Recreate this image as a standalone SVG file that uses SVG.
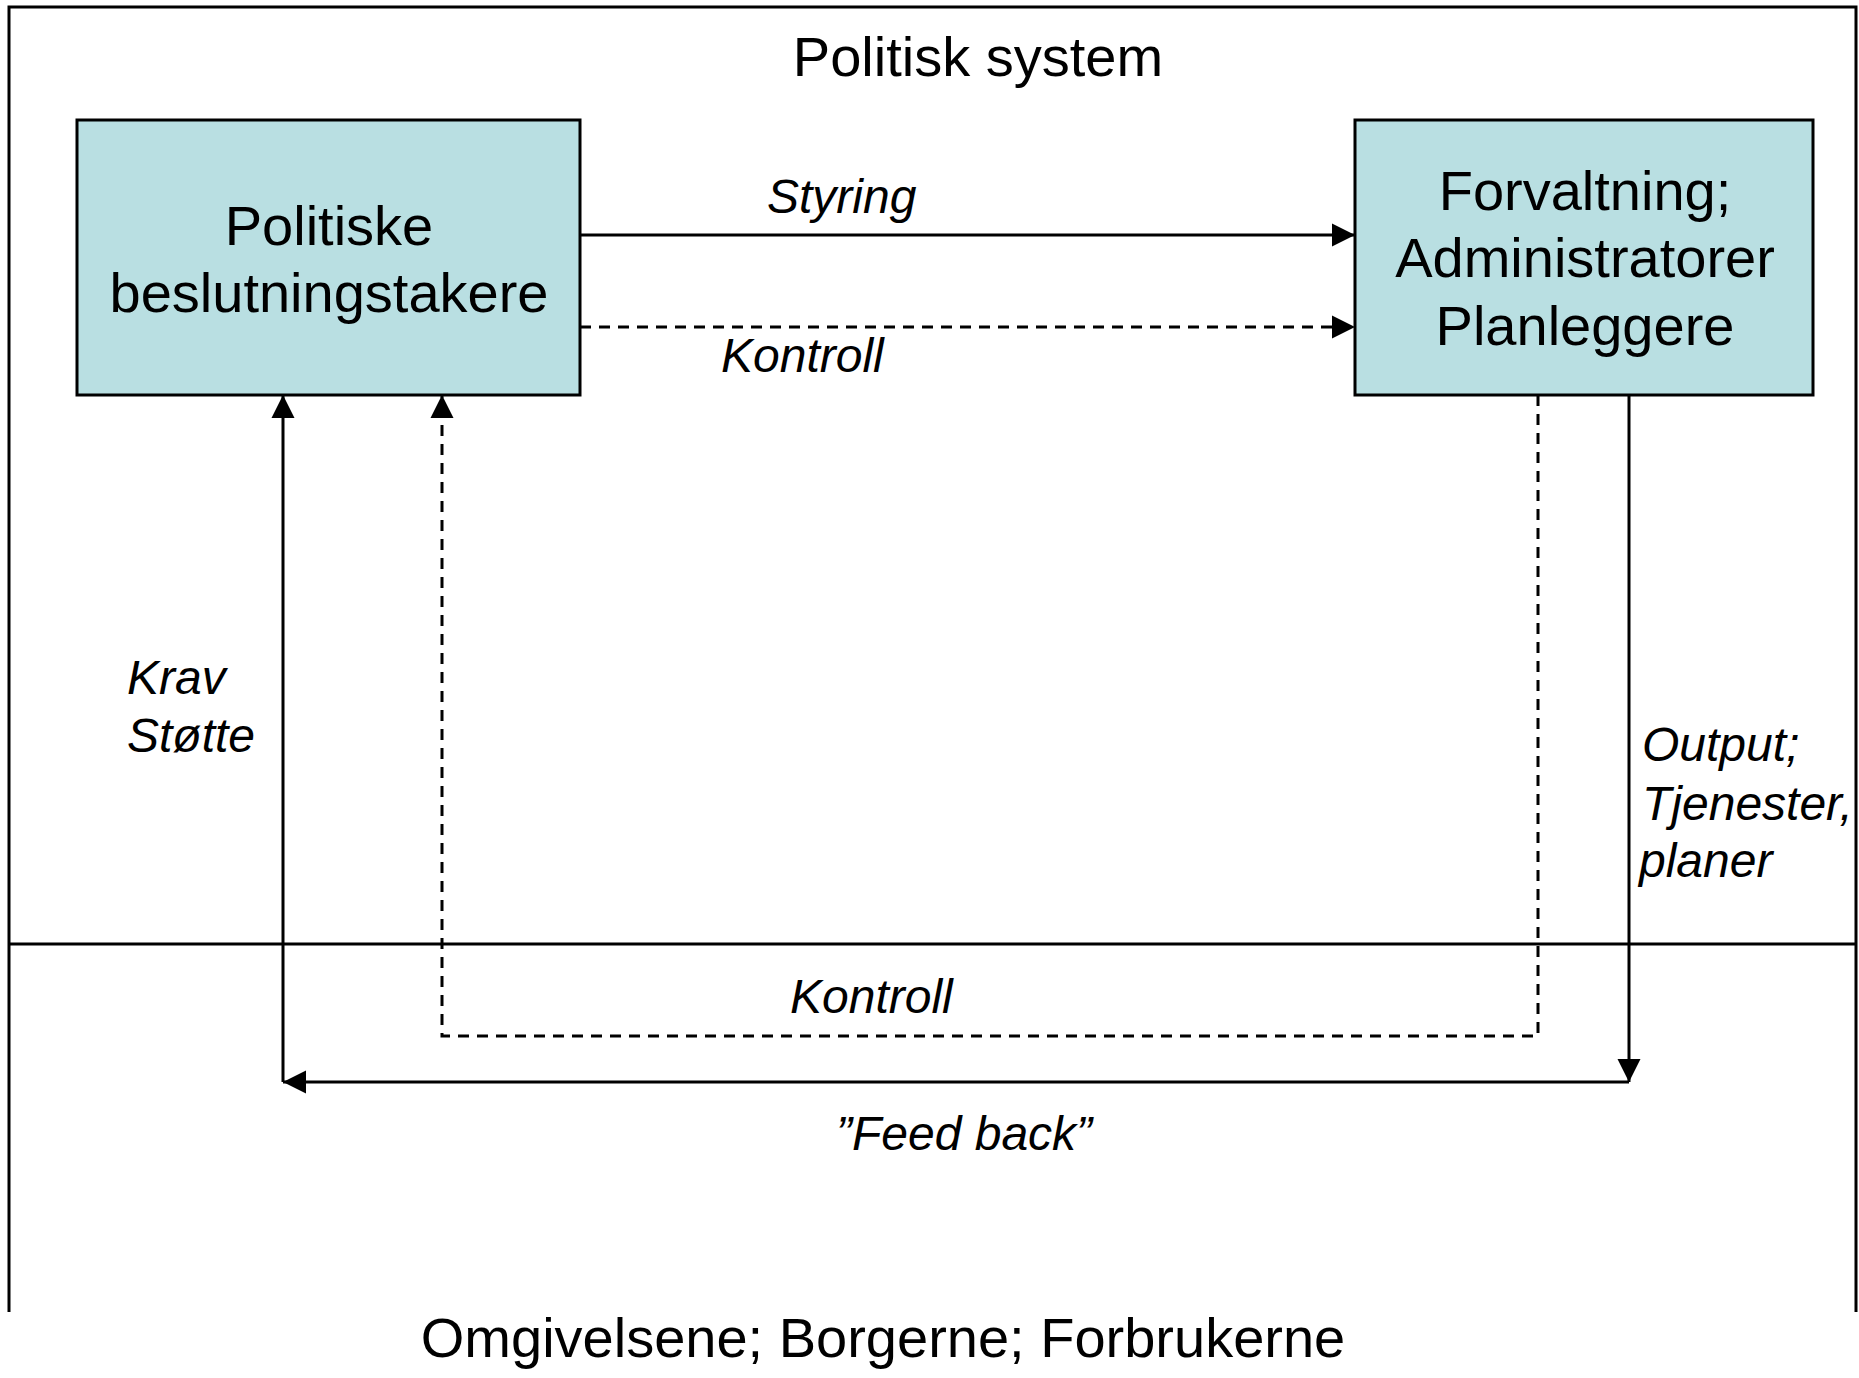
<svg xmlns="http://www.w3.org/2000/svg" width="1859" height="1378" viewBox="0 0 1859 1378">
<style>
.frame{fill:none;stroke:#000;stroke-width:3}
.box{fill:#B9DFE2;stroke:#000;stroke-width:3}
.main{font-family:"Liberation Sans",Arial,sans-serif;font-size:56px;fill:#000}
.lbl{font-family:"Liberation Sans",Arial,sans-serif;font-size:48px;font-style:italic;fill:#000}
.c{fill:none;stroke:#000;stroke-width:3}
.d{stroke-dasharray:11 8}
</style>
<defs>
<marker id="ah" markerUnits="userSpaceOnUse" markerWidth="24" markerHeight="24" viewBox="0 0 24 24" refX="23" refY="12" orient="auto">
<path d="M0,0.5 L23,12 L0,23.5 z" fill="#000"/>
</marker>
</defs>
<rect width="1859" height="1378" fill="#fff"/>
<g id="frame">
<path class="frame" d="M9,1312 V7 H1856 V1312"/>
<line class="frame" x1="9" y1="944" x2="1856" y2="944"/>
<text class="main" x="978" y="76" text-anchor="middle">Politisk system</text>
<text class="main" x="883" y="1357" text-anchor="middle">Omgivelsene; Borgerne; Forbrukerne</text>
</g>
<g id="node-politiske">
<rect class="box" x="77" y="120" width="503" height="275"/>
<text class="main" x="329" y="245" text-anchor="middle">Politiske</text>
<text class="main" x="329" y="312" text-anchor="middle">beslutningstakere</text>
</g>
<g id="node-forvaltning">
<rect class="box" x="1355" y="120" width="458" height="275"/>
<text class="main" x="1585" y="210" text-anchor="middle">Forvaltning;</text>
<text class="main" x="1585" y="277" text-anchor="middle">Administratorer</text>
<text class="main" x="1585" y="345" text-anchor="middle">Planleggere</text>
</g>
<g id="connectors">
<line class="c" x1="580" y1="235" x2="1355" y2="235" marker-end="url(#ah)"/>
<line class="c d" x1="580" y1="327" x2="1355" y2="327" marker-end="url(#ah)"/>
<path class="c d" d="M1538,395 V1036 H442 V395" marker-end="url(#ah)"/>
<line class="c" x1="1629" y1="395" x2="1629" y2="1082" marker-end="url(#ah)"/>
<line class="c" x1="1629" y1="1082" x2="283" y2="1082" marker-end="url(#ah)"/>
<line class="c" x1="283" y1="1082" x2="283" y2="395" marker-end="url(#ah)"/>
</g>
<g id="labels">
<text class="lbl" x="767" y="213">Styring</text>
<text class="lbl" x="721" y="372">Kontroll</text>
<text class="lbl" x="127" y="694">Krav</text>
<text class="lbl" x="127" y="752">Støtte</text>
<text class="lbl" x="1642" y="761">Output;</text>
<text class="lbl" x="1642" y="820">Tjenester,</text>
<text class="lbl" x="1639" y="877">planer</text>
<text class="lbl" x="790" y="1013">Kontroll</text>
<text class="lbl" x="836" y="1150">”Feed back”</text>
</g>
</svg>
